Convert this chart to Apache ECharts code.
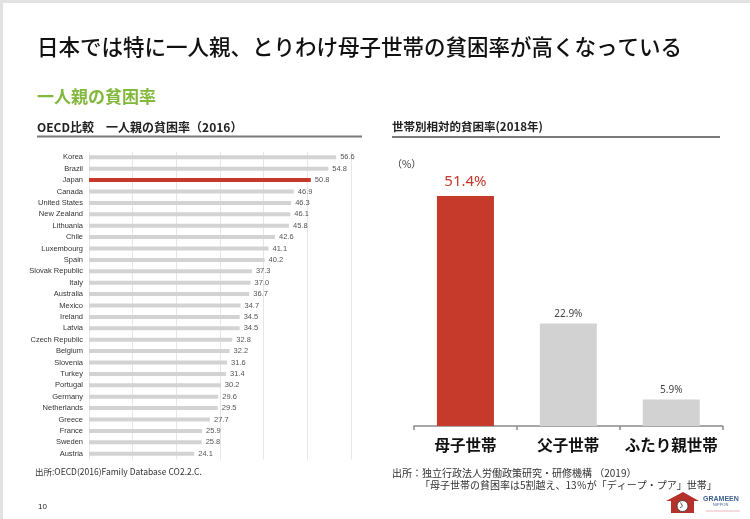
<!DOCTYPE html>
<html>
<head>
<meta charset="utf-8">
<script src="https://cdn.jsdelivr.net/npm/echarts@6/dist/echarts.min.js"></script>
<style>
html,body{margin:0;padding:0;background:#fff;}
#chart{width:750px;height:519px;}
</style>
</head>
<body>
<div id="chart"></div>
<script>
// ---- data ----
const countries = ['Korea','Brazil','Japan','Canada','United States','New Zealand','Lithuania','Chile','Luxembourg','Spain','Slovak Republic','Italy','Australia','Mexico','Ireland','Latvia','Czech Republic','Belgium','Slovenia','Turkey','Portugal','Germany','Netherlands','Greece','France','Sweden','Austria'];
const singleParentPoverty = [56.6,54.8,50.8,46.9,46.3,46.1,45.8,42.6,41.1,40.2,37.3,37.0,36.7,34.7,34.5,34.5,32.8,32.2,31.6,31.4,30.2,29.6,29.5,27.7,25.9,25.8,24.1];
const highlightCountry = 'Japan';
const households = ['母子世帯','父子世帯','ふたり親世帯'];
const householdRates = [51.4, 22.9, 5.9];
const leftTicks = [0,10,20,30,40,50,60];

const RED = '#c63a2b';
const GRAY_BAR = '#d3d3d3';
const JP = "'Noto Sans CJK JP','Noto Sans',sans-serif";
const NARROW = "'Liberation Sans Narrow','Liberation Sans',Arial,sans-serif";

const chart = echarts.init(document.getElementById('chart'), null, {renderer:'canvas'});

const leftData = singleParentPoverty.map((v,i)=>{
  const hl = countries[i] === highlightCountry;
  return {value:v, itemStyle:{color: hl ? RED : GRAY_BAR}};
});
const rightData = householdRates.map((v,i)=>{
  const first = i === 0;
  return {
    value:v,
    itemStyle:{color: first ? RED : '#d2d2d2'},
    label:{fontSize: first?15:10, color: first?RED:'#444', distance: first?7:4}
  };
});

const option = {
  animation:false,
  backgroundColor:'#fff',
  grid:[
    {left:89, right:399, top:151.6, bottom:59.6, containLabel:false},
    {left:414, right:27.3, top:157.5, bottom:93, containLabel:false}
  ],
  xAxis:[
    {gridIndex:0, type:'value', min:leftTicks[0], max:leftTicks[leftTicks.length-1], interval:10,
     axisLabel:{show:false}, axisLine:{show:false}, axisTick:{show:false},
     splitLine:{show:true, lineStyle:{color:'#e6e6e6', width:1}}},
    {gridIndex:1, type:'category', data:households,
     axisLine:{show:true, lineStyle:{color:'#8a8a8a', width:1.5}},
     axisTick:{show:true, length:4, interval:0, lineStyle:{color:'#8a8a8a', width:1.5}},
     axisLabel:{interval:0, fontFamily:JP, fontSize:15.5, fontWeight:'bold', color:'#111', margin:11}}
  ],
  yAxis:[
    {gridIndex:0, type:'category', data:countries, inverse:true,
     axisLine:{show:false}, axisTick:{show:false},
     axisLabel:{interval:0, fontFamily:NARROW, fontSize:7.5, color:'#333', margin:6}},
    {gridIndex:1, type:'value', min:0, max:60, show:false, splitLine:{show:false}}
  ],
  series:[
    {type:'bar', xAxisIndex:0, yAxisIndex:0, data:leftData, barWidth:4,
     label:{show:true, position:'right', distance:4, fontFamily:NARROW, fontSize:7.5, color:'#555',
       formatter:p=>p.value.toFixed(1)}},
    {type:'bar', xAxisIndex:1, yAxisIndex:1, data:rightData, barWidth:57,
     label:{show:true, position:'top', fontFamily:"'Noto Sans','Liberation Sans',sans-serif",
       formatter:p=>p.value.toFixed(1)+'%'}}
  ],
  graphic:[
    // slide frame
    {type:'rect', shape:{x:0,y:0,width:750,height:3}, style:{fill:'#e2e2e2'}, silent:true},
    {type:'rect', shape:{x:0,y:0,width:3,height:519}, style:{fill:'#e2e2e2'}, silent:true},
    // titles
    {type:'text', x:37, y:47, style:{text:'日本では特に一人親、とりわけ母子世帯の貧困率が高くなっている', font:'500 21.5px '+JP, fill:'#111', textVerticalAlign:'middle'}},
    {type:'text', x:37, y:97, style:{text:'一人親の貧困率', font:'bold 17px '+JP, fill:'#82b93c', textVerticalAlign:'middle'}},
    {type:'text', x:37, y:127, style:{text:'OECD比較　一人親の貧困率（2016）', font:'bold 12px '+JP, fill:'#222', textVerticalAlign:'middle'}},
    {type:'text', x:392, y:127, style:{text:'世帯別相対的貧困率(2018年)', font:'bold 11.5px '+JP, fill:'#222', textVerticalAlign:'middle'}},
    {type:'line', shape:{x1:37,y1:136.5,x2:362,y2:136.5}, style:{stroke:'#7a7a7a', lineWidth:2}},
    {type:'line', shape:{x1:392,y1:137,x2:720,y2:137}, style:{stroke:'#7a7a7a', lineWidth:2}},
    {type:'text', x:392, y:164, style:{text:'（%）', font:'10px '+JP, fill:'#333', textVerticalAlign:'middle'}},
    // sources
    {type:'text', x:35, y:472, style:{text:'出所:OECD(2016)Family Database CO2.2.C.', font:'8.5px '+JP, fill:'#333', textVerticalAlign:'middle'}},
    {type:'text', x:392, y:473, style:{text:'出所：独立行政法人労働政策研究・研修機構 （2019）', font:'10px '+JP, fill:'#333', textVerticalAlign:'middle'}},
    {type:'text', x:420, y:485, style:{text:'「母子世帯の貧困率は5割越え、13％が「ディープ・プア」世帯」', font:'10px '+JP, fill:'#333', textVerticalAlign:'middle'}},
    {type:'text', x:38, y:507, style:{text:'10', font:'8px '+NARROW, fill:'#222', textVerticalAlign:'middle'}},
    // logo
    {type:'polygon', shape:{points:[[683,492],[666,501],[671,501],[671,513],[694,513],[694,501],[699,501]]}, style:{fill:'#b5322c'}},
    {type:'circle', shape:{cx:682.5,cy:506,r:5.5}, style:{fill:'#fff', stroke:'#333', lineWidth:0.8}},
    {type:'line', shape:{x1:682.5,y1:506,x2:680.5,y2:502.5}, style:{stroke:'#333', lineWidth:0.8}},
    {type:'line', shape:{x1:682.5,y1:506,x2:680,y2:508}, style:{stroke:'#333', lineWidth:0.8}},
    {type:'text', x:703, y:499, style:{text:'GRAMEEN', font:'bold 7px '+NARROW, fill:'#3f5f8f', textVerticalAlign:'middle'}},
    {type:'text', x:713, y:504.5, style:{text:'NIPPON', font:'4px '+NARROW, fill:'#3f5f8f', textVerticalAlign:'middle'}},
    {type:'line', shape:{x1:706,y1:511,x2:740,y2:511}, style:{stroke:'#e7b7bd', lineWidth:1}}
  ]
};
chart.setOption(option);
</script>
</body>
</html>
